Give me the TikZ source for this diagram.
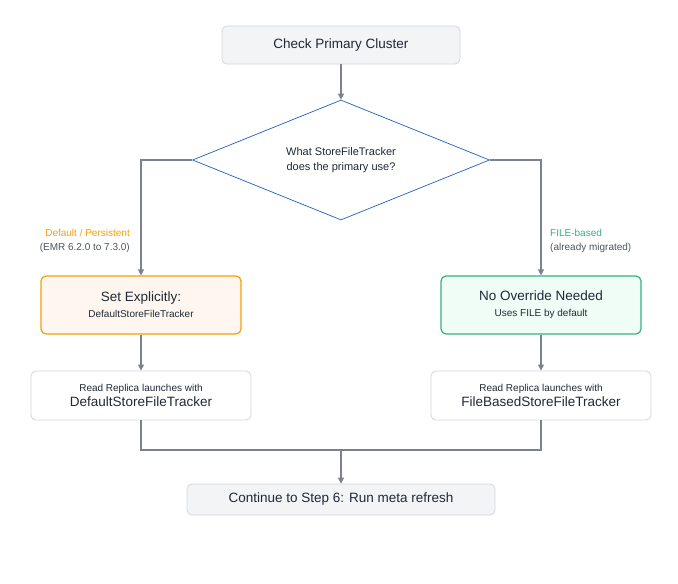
\documentclass[tikz,border=0pt]{standalone}
\usepackage{fontspec}
\setmainfont{Liberation Sans}
\usetikzlibrary{shapes.geometric,arrows.meta}
\definecolor{ln}{HTML}{7B8191}
\definecolor{txt}{HTML}{1F2937}
\definecolor{gbg}{HTML}{F3F4F6}
\definecolor{gbd}{HTML}{D1D5DB}
\definecolor{blu}{HTML}{1F5FBF}
\definecolor{org}{HTML}{F59E0B}
\definecolor{orgbg}{HTML}{FFF7EF}
\definecolor{grn}{HTML}{34B27D}
\definecolor{grnbg}{HTML}{EFFDF6}
\begin{document}
\begin{tikzpicture}[x=1pt,y=-1pt,
  box/.style={draw=gbd,rounded corners=5pt,line width=0.8pt,text=txt,align=center,inner sep=0pt},
  conn/.style={draw=ln,line width=1.1pt},
  arr/.style={conn,-{Triangle[length=6pt,width=6pt]}},
  big/.style={font=\fontsize{13.5}{16}\selectfont},
  small/.style={font=\fontsize{10}{13}\selectfont}]
\useasboundingbox (0,0) rectangle (678,584);
\node[box,fill=gbg,minimum width=238pt,minimum height=38pt,big] (top) at (341,45) {Check Primary Cluster};
\node[draw=blu,fill=white,diamond,aspect=2.48,minimum width=297pt,minimum height=120pt,inner sep=0pt,line width=0.7pt,text=txt,align=center,font=\fontsize{11}{15}\selectfont] (dia) at (341,160) {What StoreFileTracker\\does the primary use?};
\node[box,draw=org,fill=orgbg,line width=1.2pt,minimum width=200pt,minimum height=58pt] (ob) at (141,305) {{\fontsize{13.5}{16}\selectfont Set Explicitly:}\\[4pt]{\fontsize{10}{13}\selectfont DefaultStoreFileTracker}};
\node[box,draw=grn,fill=grnbg,line width=1.2pt,minimum width=200pt,minimum height=58pt] (gb) at (541,305) {{\fontsize{13.5}{16}\selectfont No Override Needed}\\[4pt]{\fontsize{10}{13}\selectfont Uses FILE by default}};
\node[box,fill=white,minimum width=220pt,minimum height=49pt] (lr) at (141,395.5) {{\fontsize{10}{13}\selectfont Read Replica launches with}\\[3pt]{\fontsize{13.5}{16}\selectfont DefaultStoreFileTracker}};
\node[box,fill=white,minimum width=220pt,minimum height=49pt] (rr) at (541,395.5) {{\fontsize{10}{13}\selectfont Read Replica launches with}\\[3pt]{\fontsize{13.5}{16}\selectfont FileBasedStoreFileTracker}};
\node[box,fill=gbg,minimum width=308pt,minimum height=31pt,big] (bot) at (341,499.5) {Continue to Step 6: Run meta refresh};
\coordinate (j) at (341,450);
\draw[arr] (top) -- (dia.north);
\draw[arr] (dia.west) -| (ob.north);
\draw[arr] (dia.east) -| (gb.north);
\draw[arr] (ob) -- (lr);
\draw[arr] (gb) -- (rr);
\draw[conn] (lr.south) |- (j);
\draw[conn] (rr.south) |- (j);
\draw[arr] (j) -- (bot.north);
\node[anchor=east,text=org,small,inner sep=0pt] (l1) at (130,233) {Default / Persistent};
\node[anchor=east,text=txt!80,small,inner sep=0pt] (l2) at (130,247.5) {(EMR 6.2.0 to 7.3.0)};
\node[anchor=west,text=grn,small,inner sep=0pt] (r1) at (550,233) {FILE-based};
\node[anchor=west,text=txt!80,small,inner sep=0pt] (r2) at (550,247.5) {(already migrated)};
\end{tikzpicture}
\end{document}
